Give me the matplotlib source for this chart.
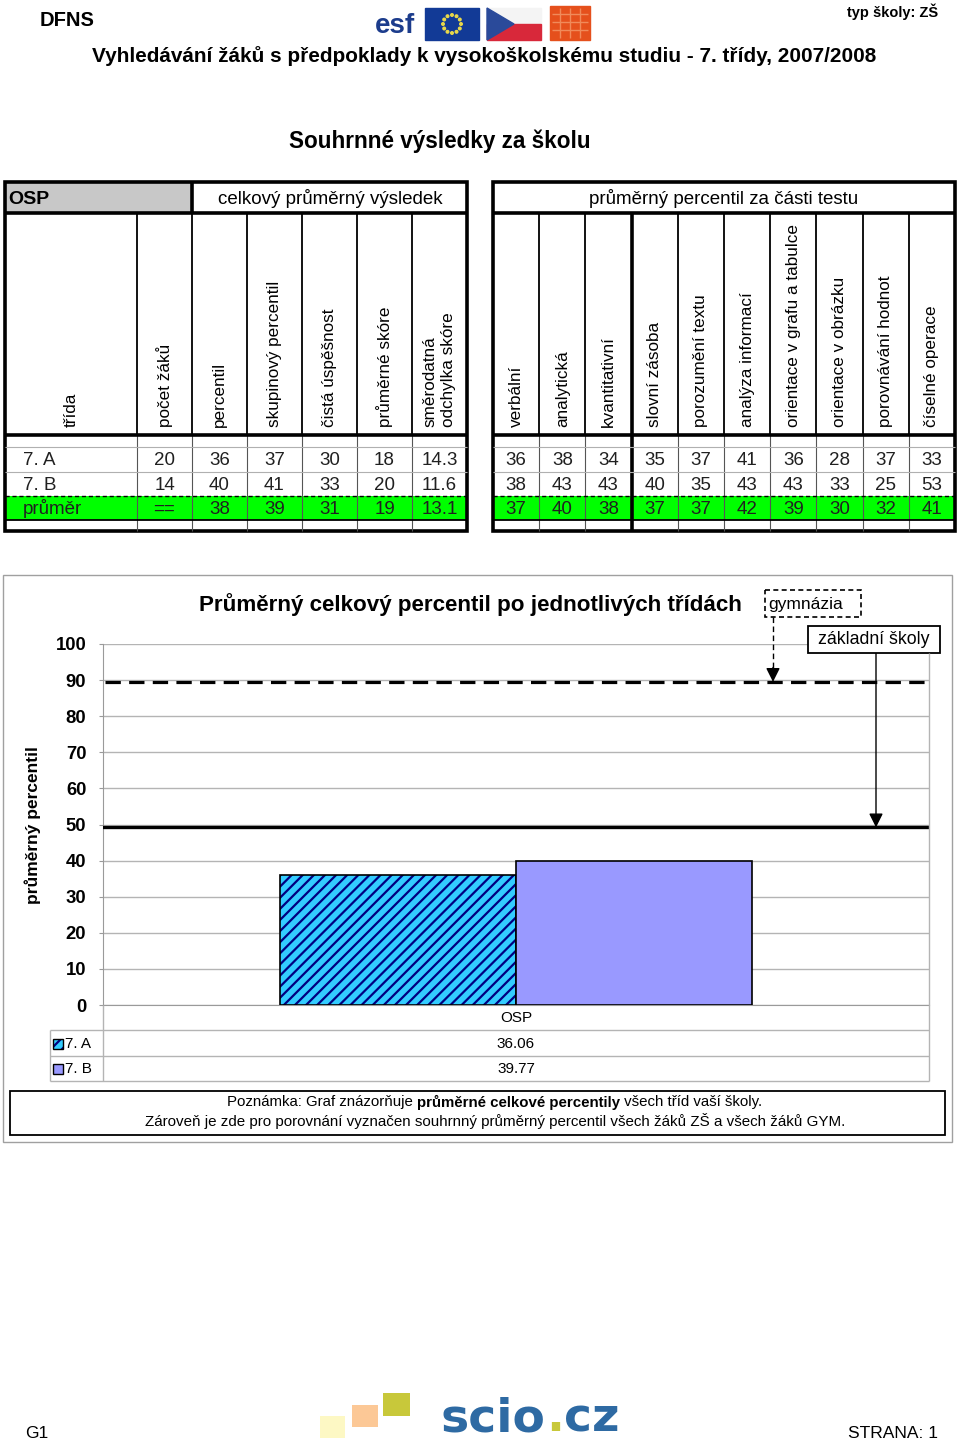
import matplotlib
matplotlib.use('Agg')
import numpy as np
import matplotlib.pyplot as plt
import matplotlib.transforms as mtrans
from matplotlib.patches import Rectangle, Polygon, Circle

plt.rcParams['font.family'] = ['Liberation Sans', 'DejaVu Sans']
plt.rcParams['hatch.linewidth'] = 1.6

# ---- data ----
left_cols = ['třída', 'počet žáků', 'percentil', 'skupinový percentil', 'čistá úspěšnost',
             'průměrné skóre', 'směrodatná\nodchylka skóre']
right_cols = ['verbální', 'analytická', 'kvantitativní', 'slovní zásoba', 'porozumění textu',
              'analýza informací', 'orientace v grafu a tabulce', 'orientace v obrázku',
              'porovnávání hodnot', 'číselné operace']
row_names = ['7. A', '7. B', 'průměr']
pocet_zaku = ['20', '14', '==']
left_vals = [['36', '37', '30', '18', '14.3'],
             ['40', '41', '33', '20', '11.6'],
             ['38', '39', '31', '19', '13.1']]
right_vals = [[36, 38, 34, 35, 37, 41, 36, 28, 37, 33],
              [38, 43, 43, 40, 35, 43, 43, 33, 25, 53],
              [37, 40, 38, 37, 37, 42, 39, 30, 32, 41]]

classes = ['7. A', '7. B']
class_pct = [36.06, 39.77]
category = 'OSP'
gym_level = 89.5
zs_level = 49.2
yticks = list(range(0, 101, 10))

W, H = 960, 1445
fig = plt.figure(figsize=(W / 100, H / 100), dpi=100)
page = fig.add_axes([0, 0, 1, 1], zorder=2)
page.set_xlim(0, W)
page.set_ylim(H, 0)
page.axis('off')
page.patch.set_alpha(0)
rend = fig.canvas.get_renderer()


def fit(t, width):
    w = t.get_window_extent(renderer=rend).width
    t.set_fontsize(t.get_fontsize() * width / w)
    return t


def mixed(pieces, xc, y, size, family=None, va='center'):
    texts = []
    for s, wt, col in pieces:
        kw = {} if family is None else {'family': family}
        texts.append(page.text(0, y, s, fontsize=size, fontweight=wt, color=col,
                               ha='left', va=va, **kw))
    widths = [t.get_window_extent(renderer=rend).width for t in texts]
    x = xc - sum(widths) / 2
    for t, w in zip(texts, widths):
        t.set_x(x)
        x += w
    return texts


def hline(y, x0, x1, **kw):
    page.plot([x0, x1], [y, y], solid_capstyle='butt', **kw)


def vline(x, y0, y1, **kw):
    page.plot([x, x], [y0, y1], solid_capstyle='butt', **kw)


# ---- page header ----
page.text(40, 21, 'DFNS', fontsize=14.5, fontweight='bold', va='center')
page.text(938, 12, 'typ školy: ZŠ', fontsize=10.5, fontweight='bold', ha='right', va='center')
fit(page.text(484, 56, 'Vyhledávání žáků s předpoklady k vysokoškolskému studiu - 7. třídy, 2007/2008',
              fontsize=14, fontweight='bold', ha='center', va='center'), 785)

# logos
page.text(395, 26, 'esf', fontsize=20, fontweight='bold', color='#1c3c8c', ha='center', va='center')
page.add_patch(Rectangle((425, 8), 54, 32, color='#123a96'))
for a in np.linspace(0, 2 * np.pi, 13)[:-1]:
    page.add_patch(Circle((452 + 9 * np.cos(a), 24 + 9 * np.sin(a)), 1.3, color='#e8d84a'))
page.add_patch(Rectangle((487, 8), 54, 16, color='#f4f4f4'))
page.add_patch(Rectangle((487, 24), 54, 16, color='#d8283a'))
page.add_patch(Polygon([[487, 8], [487, 40], [514, 24]], color='#2a4a9a'))
page.add_patch(Rectangle((550, 6), 40, 34, color='#e5501c'))
for gx in [560, 570, 580]:
    vline(gx, 8, 38, color='#f08a5a', lw=1)
for gy in [14, 22, 30]:
    hline(gy, 552, 588, color='#f08a5a', lw=1)

fit(page.text(440, 141, 'Souhrnné výsledky za školu', fontsize=16, fontweight='bold',
              ha='center', va='center'), 301)

# ---- tables ----
Y_TOP, Y_HEAD, Y_COLS = 182, 213, 435
row_edges = [447, 472, 496, 520]
Y_BOT = 531
row_centers = [(row_edges[i] + row_edges[i + 1]) / 2 + 1 for i in range(3)]

left_x = [5, 137, 192, 247, 302, 357, 412, 467]
right_x = list(np.linspace(493, 955, 11))


def draw_table(xe, thick=()):
    x0, x1 = xe[0], xe[-1]
    page.add_patch(Rectangle((x0, row_edges[2]), x1 - x0, row_edges[3] - row_edges[2],
                             color='#00ff00', lw=0))
    for x in xe[1:-1]:
        if x in thick:
            vline(x, Y_HEAD, Y_BOT, color='black', lw=2.6)
        else:
            vline(x, Y_HEAD, Y_COLS, color='black', lw=1.3)
            vline(x, Y_COLS, Y_BOT, color='#555555', lw=0.8)
    hline(Y_HEAD, x0, x1, color='black', lw=2.6)
    hline(Y_COLS, x0, x1, color='black', lw=2.6)
    for y in row_edges[:2]:
        hline(y, x0, x1, color='#b0b0b0', lw=0.8)
    hline(row_edges[2], x0, x1, color='black', lw=1, ls=(0, (3, 2)))
    hline(row_edges[3], x0, x1, color='black', lw=1.3)
    page.add_patch(Rectangle((x0, Y_TOP), x1 - x0, Y_BOT - Y_TOP, fill=False,
                             edgecolor='black', lw=2.6))


# left table
page.add_patch(Rectangle((5, Y_TOP), 187, Y_HEAD - Y_TOP, color='#c8c8c8', lw=0))
vline(192, Y_TOP, Y_HEAD, color='black', lw=2.6)
draw_table(left_x)
draw_table(right_x, thick=[right_x[3]])

page.text(8, 199, 'OSP', fontsize=14, fontweight='bold', va='center')
page.text(330, 198, 'celkový průměrný výsledek', fontsize=13.5, ha='center', va='center')
page.text(724, 198, 'průměrný percentil za části testu', fontsize=13.5, ha='center', va='center')

for i, lab in enumerate(left_cols):
    xc = (left_x[i] + left_x[i + 1]) / 2
    page.text(xc, 427, lab, rotation=90, fontsize=12.3, ha='center', va='bottom',
              multialignment='left', linespacing=1.3)
for i, lab in enumerate(right_cols):
    xc = (right_x[i] + right_x[i + 1]) / 2
    page.text(xc, 427, lab, rotation=90, fontsize=12.3, ha='center', va='bottom')

for r in range(3):
    yc = row_centers[r]
    col = '#202020'
    page.text(23, yc, row_names[r], fontsize=13.5, va='center', color=col)
    cells = [pocet_zaku[r]] + left_vals[r]
    for i, v in enumerate(cells):
        xc = (left_x[i + 1] + left_x[i + 2]) / 2
        page.text(xc, yc, v, fontsize=13.5, ha='center', va='center', color=col)
    for i, v in enumerate(right_vals[r]):
        xc = (right_x[i] + right_x[i + 1]) / 2
        page.text(xc, yc, str(v), fontsize=13.5, ha='center', va='center', color=col)

# ---- chart ----
page.add_patch(Rectangle((3, 575), 949, 567, fill=False, edgecolor='#a0a0a0', lw=1))
PX0, PX1, PY0, PY1 = 103, 929, 644, 1005
ax = fig.add_axes([PX0 / W, (H - PY1) / H, (PX1 - PX0) / W, (PY1 - PY0) / H], zorder=1)
ax.patch.set_alpha(0)
ax.set_xlim(-0.5, 0.5)
ax.set_ylim(0, 100)
bw = 0.2857
xpos = [-bw / 2, bw / 2]
ax.bar(xpos[0], class_pct[0], bw, facecolor='#33ccff', edgecolor='#000080', hatch='///', lw=0, zorder=2)
ax.bar(xpos[0], class_pct[0], bw, facecolor='none', edgecolor='black', lw=1.2, zorder=3)
ax.bar(xpos[1], class_pct[1], bw, facecolor='#9999ff', edgecolor='black', lw=1.2, zorder=3)

ax.set_yticks(yticks)
ax.set_xticks([])
ax.yaxis.grid(True, color='#b4b4b4', lw=1)
ax.set_axisbelow(True)
for s in ['top', 'right']:
    ax.spines[s].set_visible(False)
ax.spines['left'].set_color('#9a9a9a')
ax.spines['bottom'].set_color('#9a9a9a')
ax.tick_params(axis='y', length=3, color='#9a9a9a', pad=9, labelsize=13.3)
for lab in ax.get_yticklabels():
    lab.set_fontweight('bold')

ax.axhline(gym_level, xmin=0.003, xmax=1, color='black', lw=2.3, ls=(0, (4.8, 2.6)), zorder=4)
ax.axhline(zs_level, color='black', lw=2.4, zorder=4)

blend = mtrans.blended_transform_factory(ax.transAxes, ax.transData)
gx = (773 - PX0) / (PX1 - PX0)
zx = (876 - PX0) / (PX1 - PX0)
ppu = (PY1 - PY0) / 100.0
gy0 = 100 + (PY0 - 617) / ppu
zy0 = 100 - (653 - PY0) / ppu
ax.plot([gx, gx], [gy0, gym_level + 3], color='black', lw=1, ls=(0, (4, 2.5)),
        transform=blend, clip_on=False, zorder=5)
arrow = dict(arrowstyle='-|>,head_length=0.6,head_width=0.3', color='black',
             lw=1, mutation_scale=14, shrinkA=0, shrinkB=0)
ax.annotate('', xy=(gx, gym_level), xycoords=('axes fraction', 'data'),
            xytext=(gx, gym_level + 4), textcoords=('axes fraction', 'data'),
            arrowprops=arrow, annotation_clip=False, zorder=5)
ax.annotate('', xy=(zx, zs_level), xycoords=('axes fraction', 'data'),
            xytext=(zx, zy0), textcoords=('axes fraction', 'data'),
            arrowprops=arrow, annotation_clip=False, zorder=5)

# labels of reference lines
page.add_patch(Rectangle((765, 590), 96, 27, facecolor='white', edgecolor='black', lw=1.2,
                         ls=(0, (3, 2))))
page.text(768, 604, 'gymnázia', fontsize=12.5, va='center')
page.add_patch(Rectangle((808, 626), 132, 27, facecolor='white', edgecolor='black', lw=1.3))
page.text(874, 640, 'základní školy', fontsize=12.8, ha='center', va='center')

fit(page.text(470, 605, 'Průměrný celkový percentil po jednotlivých třídách', fontsize=15,
              fontweight='bold', ha='center', va='center'), 546)
page.text(33, 825, 'průměrný percentil', rotation=90, fontsize=12.5, fontweight='bold',
          ha='center', va='center')

# data table under the chart
vline(PX1, 653, 1081, color='#b4b4b4', lw=1)
vline(PX0, PY1, 1081, color='#b4b4b4', lw=1)
vline(50, 1030, 1081, color='#b4b4b4', lw=1)
for y in [1030, 1056, 1081]:
    hline(y, 50, PX1, color='#b4b4b4', lw=1)
xc_cat = (PX0 + PX1) / 2
page.text(xc_cat, 1018, category, fontsize=11, ha='center', va='center')
page.add_patch(Rectangle((53, 1039), 10, 10, facecolor='#33ccff', edgecolor='#000080',
                         hatch='///', lw=0))
page.add_patch(Rectangle((53, 1039), 10, 10, fill=False, edgecolor='black', lw=1))
page.add_patch(Rectangle((53, 1064), 10, 10, facecolor='#9999ff', edgecolor='black', lw=1))
for i, (c, v) in enumerate(zip(classes, class_pct)):
    y = 1044 + 25 * i
    page.text(65, y, c, fontsize=11, va='center')
    page.text(xc_cat, y, f'{v:.2f}', fontsize=11, ha='center', va='center')

# note
page.add_patch(Rectangle((10, 1091), 935, 44, fill=False, edgecolor='black', lw=1.3))
mixed([('Poznámka: Graf znázorňuje ', 'normal', 'black'),
       ('průměrné celkové percentily', 'bold', 'black'),
       (' všech tříd vaší školy.', 'normal', 'black')], 495, 1102, 10.8)
fit(page.text(495, 1121, 'Zároveň je zde pro porovnání vyznačen souhrnný průměrný percentil '
              'všech žáků ZŠ a všech žáků GYM.', fontsize=10.8, ha='center', va='center'), 699)

# ---- footer ----
page.text(25, 1434, 'G1', fontsize=12.5, va='center')
page.text(938, 1434, 'STRANA: 1', fontsize=12.5, ha='right', va='center')
page.add_patch(Rectangle((320, 1416), 25, 22, color='#fdf8c4', lw=0))
page.add_patch(Rectangle((352, 1405), 26, 22, color='#fcc896', lw=0))
page.add_patch(Rectangle((383, 1393), 27, 23, color='#c8c83a', lw=0))
mixed([('scio', 'bold', '#2e6aa3'), ('.', 'bold', '#c8c83a'), ('cz', 'bold', '#2e6aa3')],
      530, 1431, 34, family='DejaVu Sans', va='baseline')

fig.savefig('out.png', dpi=100)
